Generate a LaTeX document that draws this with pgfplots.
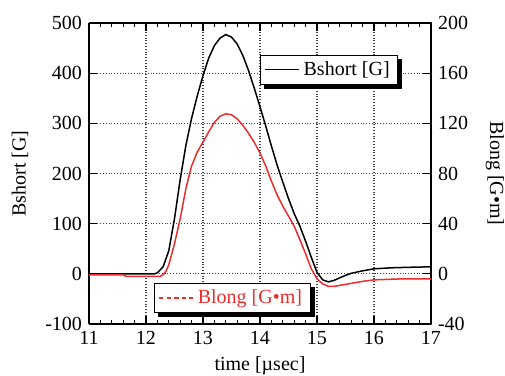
\documentclass[border=0pt]{standalone}
\usepackage{fontspec}
\setmainfont{Liberation Serif}
\usepackage{pgfplots}
\pgfplotsset{compat=1.18}
\definecolor{myred}{RGB}{235,45,45}
\pgfplotsset{
  base/.style={
    scale only axis, width=171pt, height=150.5pt,
    at={(0,0)}, anchor=south west,
    xmin=11, xmax=17,
    /pgf/number format/assume math mode=true,
    xticklabel={\pgfmathprintnumber{\tick}},
    yticklabel={\pgfmathprintnumber{\tick}},
    tick label style={font=\rmfamily\fontsize{10}{12}\selectfont},
    label style={font=\rmfamily\fontsize{10}{12}\selectfont},
    axis line style={line width=0.9pt},
    tick style={black, line width=0.6pt},
    major tick length=4pt, minor tick length=2pt,
    tick align=inside,
  },
}
\begin{document}
\begin{tikzpicture}
\begin{axis}[base,
  ymin=-100, ymax=500,
  xtick={11,12,...,17}, minor x tick num=4,
  ytick={-100,0,...,500},
  axis y line*=left,
  axis x line*=box,
  grid=major,
  major grid style={densely dotted, black!75, line width=0.6pt},
  xlabel={time [µsec]},
  ylabel={Bshort [G]},
  xlabel style={at={(axis description cs:0.5,-0.14)}, anchor=center},
  ylabel style={at={(axis description cs:-0.202,0.5)}, anchor=center},
  legend style={name=legA, at={(rel axis cs:0.500,0.894)}, anchor=north west, draw=black, line width=0.5pt, fill=white, font=\rmfamily\fontsize{10}{12}\selectfont, inner xsep=2pt, inner ysep=1pt},
]
\addplot[black, line width=0.75pt, legend image code/.code={\draw[black, line width=0.5pt] (0cm,0cm) -- (0.6cm,0cm);}] coordinates {
(11.0,0) (12.0,0) (12.15,0) (12.2,2) (12.3,14) (12.4,46) (12.5,110) (12.6,188) (12.7,256) (12.8,310) (12.9,355) (13.0,395) (13.1,430) (13.2,455) (13.3,470) (13.4,477) (13.5,472) (13.6,458) (13.7,435) (13.8,405) (13.9,370) (14.0,333) (14.1,295) (14.2,255) (14.3,217) (14.4,183) (14.5,150) (14.6,120) (14.7,95) (14.8,65) (14.9,33) (15.0,3) (15.1,-12) (15.2,-16) (15.3,-13) (15.4,-8) (15.5,-3) (15.6,1) (15.8,6) (16.0,10) (16.3,12) (16.6,13) (17.0,14)
};
\addlegendentry{Bshort [G]}
\end{axis}
\fill[black] ([xshift=2pt,yshift=-2pt]legA.south west) rectangle ([xshift=2pt]legA.south east);
\fill[black] ([yshift=-2pt]legA.south east) rectangle ([xshift=2pt,yshift=-2pt]legA.north east);
\begin{axis}[base,
  ymin=-40, ymax=200,
  ytick={-40,0,...,200},
  axis y line*=right,
  axis x line=none,
  ylabel={Blong [G•m]},
  ylabel style={at={(axis description cs:1.187,0.5)}, anchor=center, rotate=180},
  legend style={name=legB, at={(rel axis cs:0.190,0.136)}, anchor=north west, draw=black, line width=0.5pt, fill=white, font=\rmfamily\fontsize{10}{12}\selectfont, text=myred, inner xsep=2pt, inner ysep=1pt},
]
\addplot[myred, line width=0.75pt, legend image code/.code={\draw[myred, line width=0.6pt, dash pattern=on 2.2pt off 1.6pt] (0cm,0cm) -- (0.6cm,0cm);}] coordinates {
(11.0,-0.8) (11.6,-0.8) (11.65,-2) (12.25,-2) (12.3,-0.8) (12.35,2) (12.4,7.2) (12.5,24) (12.6,44) (12.7,68) (12.8,86) (12.9,97.2) (13.0,105) (13.1,113.2) (13.2,120.8) (13.3,125.6) (13.4,127.6) (13.5,126.8) (13.6,123.6) (13.7,118.4) (13.8,112) (13.9,104.8) (14.0,96.4) (14.1,86) (14.2,74) (14.3,63) (14.4,54) (14.5,46) (14.6,38) (14.7,27.2) (14.8,16) (14.9,4) (15.0,-4) (15.1,-8) (15.2,-10) (15.3,-10) (15.5,-8.4) (15.8,-6) (16.0,-4.8) (16.5,-4) (17.0,-4)
};
\addlegendentry{Blong [G•m]}
\end{axis}
\fill[black] ([xshift=2pt,yshift=-2pt]legB.south west) rectangle ([xshift=2pt]legB.south east);
\fill[black] ([yshift=-2pt]legB.south east) rectangle ([xshift=2pt,yshift=-2pt]legB.north east);
\pgfresetboundingbox
\path (-44.5pt,-26pt) rectangle (208pt,162pt);
\end{tikzpicture}
\end{document}
